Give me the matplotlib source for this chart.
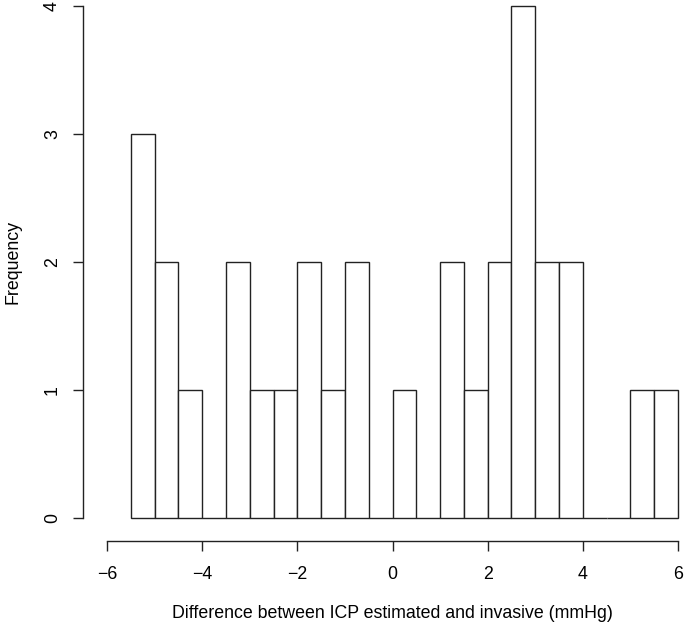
import matplotlib
matplotlib.use("Agg")
import matplotlib.pyplot as plt
import numpy as np

bin_edges = [-5.5, -5.0, -4.5, -4.0, -3.5, -3.0, -2.5, -2.0, -1.5, -1.0, -0.5,
             0.0, 0.5, 1.0, 1.5, 2.0, 2.5, 3.0, 3.5, 4.0, 4.5, 5.0, 5.5, 6.0]
counts = [3, 2, 1, 0, 2, 1, 1, 2, 1, 2, 0, 1, 0, 2, 1, 2, 4, 2, 2, 0, 0, 1, 1]
x_ticks = [-6, -4, -2, 0, 2, 4, 6]
y_ticks = [0, 1, 2, 3, 4]
xlabel = "Difference between ICP estimated and invasive (mmHg)"
ylabel = "Frequency"

plt.rcParams['font.family'] = ['Liberation Sans', 'DejaVu Sans']

W, H = 685, 627
fig = plt.figure(figsize=(W / 100, H / 100), dpi=100)
# axes region: x -6..6 -> px 107..678, y 0..4 -> px 518..6
l, r, t, b = 107, 678, 6, 518
ax = fig.add_axes([l / W, 1 - b / H, (r - l) / W, (b - t) / H])

lefts = np.array(bin_edges[:-1])
widths = np.diff(bin_edges)
ax.bar(lefts, counts, width=widths, align='edge', facecolor='white',
       edgecolor='#222222', linewidth=1.0, clip_on=False)

ax.set_xlim(-6, 6)
ax.set_ylim(0, 4)
for s in ['top', 'right']:
    ax.spines[s].set_visible(False)
px2pt = 72 / 100
ax.spines['left'].set_position(('outward', 24 * px2pt))
ax.spines['bottom'].set_position(('outward', 23 * px2pt))
ax.spines['left'].set_bounds(0, 4)
ax.spines['bottom'].set_bounds(-6, 6)
for s in ['left', 'bottom']:
    ax.spines[s].set_linewidth(1.0)
    ax.spines[s].set_color('#222222')

fs = 12.8
ax.set_xticks(x_ticks)
ax.set_xticklabels(["\u2212" + str(abs(v)) if v < 0 else str(v) for v in x_ticks])
ax.set_yticks(y_ticks)
ax.set_yticklabels([str(v) for v in y_ticks], rotation=90, va='center')
ax.tick_params(axis='both', length=10 * px2pt, width=1.0, color='#222222',
               labelsize=fs)
ax.tick_params(axis='x', pad=15 * px2pt)
ax.tick_params(axis='y', pad=12 * px2pt)

ax.set_xlabel(xlabel, fontsize=fs, labelpad=22 * px2pt)
ax.set_ylabel(ylabel, fontsize=fs, labelpad=22 * px2pt)

fig.savefig("out.png", dpi=100, facecolor='white')
